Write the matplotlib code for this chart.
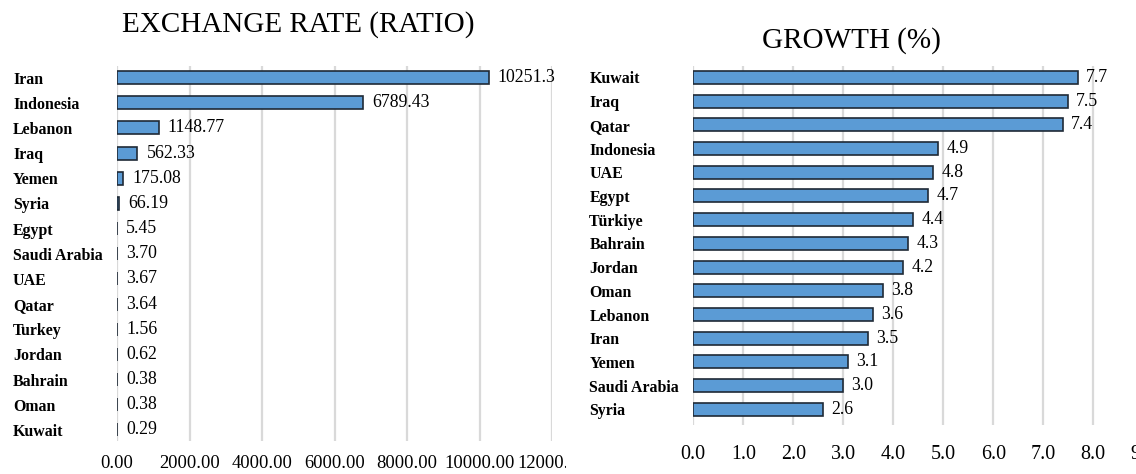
import matplotlib
matplotlib.use("Agg")
import matplotlib.pyplot as plt
from matplotlib.patches import Rectangle

plt.rcParams['font.family'] = ['Liberation Serif', 'DejaVu Serif']

ex_countries = ["Iran", "Indonesia", "Lebanon", "Iraq", "Yemen", "Syria", "Egypt",
                "Saudi Arabia", "UAE", "Qatar", "Turkey", "Jordan", "Bahrain", "Oman", "Kuwait"]
ex_values = [10251.3, 6789.43, 1148.77, 562.33, 175.08, 66.19, 5.45,
             3.70, 3.67, 3.64, 1.56, 0.62, 0.38, 0.38, 0.29]
ex_labels = ["10251.3", "6789.43", "1148.77", "562.33", "175.08", "66.19", "5.45",
             "3.70", "3.67", "3.64", "1.56", "0.62", "0.38", "0.38", "0.29"]
ex_ticks = [0, 2000, 4000, 6000, 8000, 10000, 12000]

gr_countries = ["Kuwait", "Iraq", "Qatar", "Indonesia", "UAE", "Egypt", "Türkiye", "Bahrain",
                "Jordan", "Oman", "Lebanon", "Iran", "Yemen", "Saudi Arabia", "Syria"]
gr_values = [7.7, 7.5, 7.4, 4.9, 4.8, 4.7, 4.4, 4.3, 4.2, 3.8, 3.6, 3.5, 3.1, 3.0, 2.6]
gr_ticks = [0, 1, 2, 3, 4, 5, 6, 7, 8, 9]

W, H = 1136, 474
fig = plt.figure(figsize=(W / 100, H / 100), dpi=100)

BAR = "#5B9BD5"
EDGE = "#1F2A36"
GRID = "#D9D9D9"
PX2PT = 72 / 100


def px_axes(x0, x1, y_top, y_bot):
    return fig.add_axes([x0 / W, 1 - y_bot / H, (x1 - x0) / W, (y_bot - y_top) / H])


def style(ax):
    for s in ax.spines.values():
        s.set_visible(False)
    ax.tick_params(axis='both', length=0)
    ax.grid(axis='x', color=GRID, linewidth=1.6)
    ax.set_axisbelow(True)
    for lab in ax.get_yticklabels():
        lab.set_fontweight('bold')


# Left chart
ax1 = px_axes(117, 552, 66, 441)
y1 = list(range(len(ex_countries)))
ax1.barh(y1, ex_values, height=0.52, color=BAR, edgecolor=EDGE, linewidth=1.2)
ax1.set_xlim(0, 12000)
ax1.set_ylim(len(ex_countries) - 1 + 0.44, -0.46)
ax1.set_yticks(y1)
ax1.set_yticklabels(ex_countries, fontsize=11.4, ha='left')
ax1.tick_params(axis='y', pad=104 * PX2PT)
ax1.set_xticks(ex_ticks)
ax1.set_xticklabels([f"{t:.2f}" for t in ex_ticks], fontsize=13.3)
ax1.tick_params(axis='x', pad=14 * PX2PT)
for yi, v, lab in zip(y1, ex_values, ex_labels):
    ax1.text(v + 250, yi, lab, va='center', ha='left', fontsize=12.8)
style(ax1)
fig.text(298.5 / W, 1 - 25 / H, "EXCHANGE RATE (RATIO)", ha='center', va='center', fontsize=21)

# Right chart
ax2 = px_axes(693.3, 1143.3, 66, 425)
y2 = list(range(len(gr_countries)))
ax2.barh(y2, gr_values, height=0.55, color=BAR, edgecolor=EDGE, linewidth=1.2)
ax2.set_xlim(0, 9)
ax2.set_ylim(len(gr_countries) - 1 + 0.66, -0.48)
ax2.set_yticks(y2)
ax2.set_yticklabels(gr_countries, fontsize=11.4, ha='left')
ax2.tick_params(axis='y', pad=104 * PX2PT)
ax2.set_xticks(gr_ticks)
ax2.set_xticklabels([f"{t:.1f}" for t in gr_ticks], fontsize=14.4)
ax2.tick_params(axis='x', pad=20 * PX2PT)
for yi, v in zip(y2, gr_values):
    ax2.text(v + 0.16, yi, f"{v:.1f}", va='center', ha='left', fontsize=12.8)
style(ax2)
fig.text(851.7 / W, 1 - 41 / H, "GROWTH (%)", ha='center', va='center', fontsize=21)

# clip the left chart's axis labels at its frame edge
fig.add_artist(Rectangle((566 / W, 0), 100 / W, 30 / H, transform=fig.transFigure,
                         facecolor='white', edgecolor='none', zorder=10))

fig.savefig("out.png", dpi=100)
